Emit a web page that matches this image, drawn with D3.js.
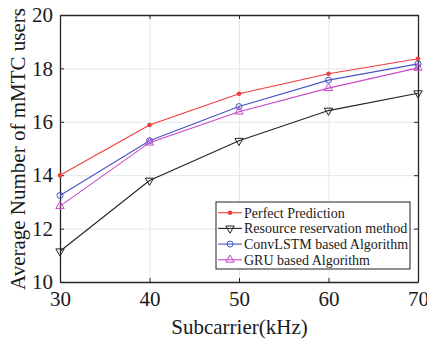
<!DOCTYPE html>
<html>
<head>
<meta charset="utf-8">
<script src="https://cdnjs.cloudflare.com/ajax/libs/d3/7.8.5/d3.min.js"></script>
<style>
  body { margin: 0; background: #ffffff; }
</style>
</head>
<body>
<div id="chart"></div>
<script>
// data
var subcarrier = [30, 40, 50, 60, 70];
var perfect = [14.0, 15.88, 17.05, 17.8, 18.36];
var reservation = [11.15, 13.8, 15.29, 16.42, 17.07];
var convlstm = [13.24, 15.29, 16.57, 17.56, 18.17];
var gru = [12.84, 15.22, 16.38, 17.26, 18.02];
var series_names = ["Perfect Prediction", "Resource reservation method", "ConvLSTM based Algorithm", "GRU based Algorithm"];
var x_ticks = [30, 40, 50, 60, 70];
var y_ticks = [10, 12, 14, 16, 18, 20];

// constants
var width = 427;
var height = 342;
var left = 60;
var right = 418;
var top_y = 15;
var bottom = 282;
var font = "'Liberation Serif', 'Times New Roman', serif";
var color_axis = "#262626";
var color_grid = "#e6e6e6";

var series = [
  { name: series_names[0], values: perfect, color: "#f03c3c", marker: "dot" },
  { name: series_names[1], values: reservation, color: "#222222", marker: "down" },
  { name: series_names[2], values: convlstm, color: "#4655c4", marker: "circle" },
  { name: series_names[3], values: gru, color: "#c848c8", marker: "up" }
];

var svg = d3.select("#chart")
  .append("svg")
  .attr("width", width)
  .attr("height", height);

var x_scale = d3.scaleLinear().domain([30, 70]).range([left, right]);
var y_scale = d3.scaleLinear().domain([10, 20]).range([bottom, top_y]);

// gridlines
svg.append("g").attr("class", "grid")
  .attr("transform", "translate(0," + bottom + ")")
  .call(d3.axisBottom(x_scale).tickValues(x_ticks).tickSize(-(bottom - top_y)).tickFormat(""))
  .call(g => g.select(".domain").remove());

svg.append("g").attr("class", "grid")
  .attr("transform", "translate(" + left + ",0)")
  .call(d3.axisLeft(y_scale).tickValues(y_ticks).tickSize(-(right - left)).tickFormat(""))
  .call(g => g.select(".domain").remove());

svg.selectAll(".grid line").style("stroke", color_grid).style("stroke-width", 1);

// axes with inward ticks
var x_axis = svg.append("g").attr("class", "axis")
  .attr("transform", "translate(0," + bottom + ")")
  .call(d3.axisBottom(x_scale).tickValues(x_ticks).tickSizeInner(-4).tickSizeOuter(0).tickPadding(9));

var y_axis = svg.append("g").attr("class", "axis")
  .attr("transform", "translate(" + left + ",0)")
  .call(d3.axisLeft(y_scale).tickValues(y_ticks).tickSizeInner(-4).tickSizeOuter(0).tickPadding(7));

svg.append("g").attr("class", "axis")
  .attr("transform", "translate(0," + top_y + ")")
  .call(d3.axisTop(x_scale).tickValues(x_ticks).tickSizeInner(-4).tickSizeOuter(0).tickFormat(""));

svg.append("g").attr("class", "axis")
  .attr("transform", "translate(" + right + ",0)")
  .call(d3.axisRight(y_scale).tickValues(y_ticks).tickSizeInner(-4).tickSizeOuter(0).tickFormat(""));

svg.selectAll(".axis .domain, .axis .tick line").style("stroke", color_axis).style("stroke-width", 1);
svg.selectAll(".axis .domain").style("stroke-width", 1.3);

[x_axis, y_axis].forEach(function(ax) {
  ax.selectAll("text")
    .style("font-family", font)
    .style("font-size", "21px")
    .style("fill", "#1a1a1a");
});

// lines and markers
var line = d3.line()
  .x(function(d, i) { return x_scale(subcarrier[i]); })
  .y(function(d) { return y_scale(d); });

function drawMarker(g, type, color, cx, cy) {
  if (type == "dot") {
    g.append("circle").attr("cx", cx).attr("cy", cy).attr("r", 2.3).style("fill", color);
  } else if (type == "circle") {
    g.append("circle").attr("cx", cx).attr("cy", cy).attr("r", 3).style("fill", "none")
      .style("stroke", color).style("stroke-width", 1);
  } else {
    var sym = d3.symbol().type(d3.symbolTriangle).size(30);
    g.append("path").attr("d", sym())
      .attr("transform", "translate(" + cx + "," + cy + ")" + (type == "down" ? " rotate(180)" : ""))
      .style("fill", "none").style("stroke", color).style("stroke-width", 1);
  }
}

series.forEach(function(s) {
  svg.append("path")
    .datum(s.values)
    .attr("d", line)
    .style("fill", "none")
    .style("stroke", s.color)
    .style("stroke-width", 1.1);
  var mg = svg.append("g");
  s.values.forEach(function(v, i) {
    drawMarker(mg, s.marker, s.color, x_scale(subcarrier[i]), y_scale(v));
  });
});

// legend
var lx = 216, ly = 202, lw = 194, lh = 67, row = 15.7;
var legend = svg.append("g");
legend.append("rect")
  .attr("x", lx).attr("y", ly).attr("width", lw).attr("height", lh)
  .style("fill", "#ffffff").style("stroke", "#222222").style("stroke-width", 1);

series.forEach(function(s, i) {
  var cy = ly + 10.7 + i * row;
  legend.append("line")
    .attr("x1", lx + 2).attr("x2", lx + 26).attr("y1", cy).attr("y2", cy)
    .style("stroke", s.color).style("stroke-width", 1.1);
  drawMarker(legend, s.marker, s.color, lx + 14, cy);
  legend.append("text")
    .attr("x", lx + 28).attr("y", cy)
    .attr("dy", "0.35em")
    .style("font-family", font)
    .style("font-size", "14px")
    .style("fill", "#1a1a1a")
    .text(s.name);
});

// axis titles
svg.append("text")
  .attr("x", (left + right) / 2 + 0.5)
  .attr("y", 334)
  .style("text-anchor", "middle")
  .style("font-family", font)
  .style("font-size", "21px")
  .style("fill", "#1a1a1a")
  .text("Subcarrier(kHz)");

svg.append("text")
  .attr("transform", "translate(25," + 149 + ") rotate(-90)")
  .style("text-anchor", "middle")
  .style("font-family", font)
  .style("font-size", "21px")
  .style("fill", "#1a1a1a")
  .text("Average Number of mMTC users");
</script>
</body>
</html>
